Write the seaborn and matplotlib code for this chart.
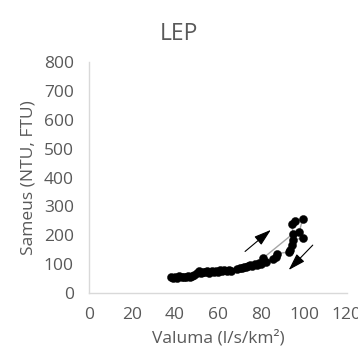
import numpy as np
import pandas as pd
import seaborn as sns
import matplotlib.pyplot as plt

# flow (l/s/km2) and turbidity (NTU, FTU), in time order through the event
flow = [38, 39, 40, 41, 42, 43, 44, 45, 46, 47, 48, 49, 50, 51, 52, 53, 54,
        55, 56, 57, 58, 59, 60, 61, 62, 63, 64, 65, 66, 69, 70, 71, 72, 73,
        74, 75, 76, 77, 78, 79, 80, 80.8,
        95, 94.3, 95.8, 99.4, 97.8, 99.4, 94.7, 94.3, 93.5, 93.2,
        87.3, 87, 85.7, 82.3]
turbidity = [55, 53, 56, 54, 58, 55, 57, 56, 58, 57, 60, 63, 70, 78, 68, 74, 72,
             78, 70, 76, 74, 78, 74, 80, 76, 79, 76, 80, 78, 84, 88, 86, 92, 90,
             95, 98, 94, 100, 97, 104, 100, 120,
             206, 239, 250, 256, 212, 191, 183, 166, 149, 142,
             137, 126, 117, 108]

# hysteresis direction arrows (start x, start y, end x, end y)
arrow_up = (71.6, 138, 85.6, 225)
arrow_down = (105, 173, 92, 73)

df = pd.DataFrame({'flow': flow, 'turb': turbidity, 'step': range(len(flow))})

sns.set_style('white')
plt.rcParams['font.family'] = ['Open Sans', 'DejaVu Sans']

fig = plt.figure(figsize=(3.58, 3.54), dpi=100)
ax = fig.add_axes([0.249, 0.172, 0.72, 0.653])

ax.plot(df['flow'], df['turb'], color='#a6a6a6', linewidth=1, zorder=1)
sns.scatterplot(data=df, x='flow', y='turb', color='black', s=34,
                edgecolor='black', linewidth=0.3, ax=ax, zorder=2)

for a in (arrow_up, arrow_down):
    ax.annotate('', xy=(a[2], a[3]), xytext=(a[0], a[1]),
                arrowprops=dict(arrowstyle='-|>,head_length=0.7,head_width=0.22',
                                color='black', lw=0.8, mutation_scale=15),
                annotation_clip=False)

ax.set_xlim(0, 120)
ax.set_ylim(0, 800)
ax.set_xticks(range(0, 121, 20))
ax.set_yticks(range(0, 801, 100))
ax.tick_params(length=0, labelsize=12.5, colors='#595959')
ax.tick_params(axis='y', pad=11)
ax.tick_params(axis='x', pad=10)
for side in ['top', 'right']:
    ax.spines[side].set_visible(False)
for side in ['left', 'bottom']:
    ax.spines[side].set_color('#d9d9d9')
    ax.spines[side].set_linewidth(1)

ax.set_xlabel('Valuma (l/s/km²)', fontsize=12.5, color='#595959', va='center')
ax.set_ylabel('Sameus (NTU, FTU)', fontsize=12.5, color='#595959', va='center')
ax.xaxis.set_label_coords(0.5, -0.195)
ax.yaxis.set_label_coords(-0.236, 0.5)
fig.text(0.5, 0.905, 'LEP', ha='center', va='center', fontsize=16.5, color='#595959')

fig.savefig('out.png', dpi=100)
